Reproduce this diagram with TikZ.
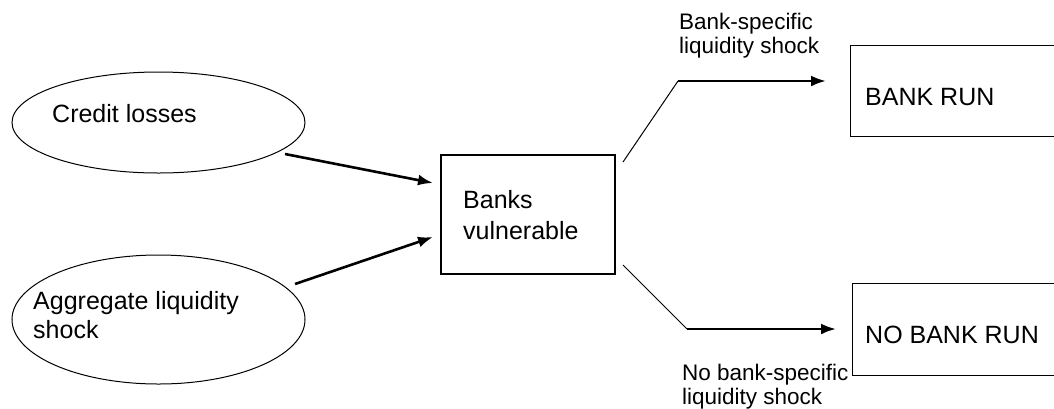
\documentclass[tikz,border=0pt]{standalone}
\usepackage{fontspec}
\setmainfont{Liberation Sans}
\usetikzlibrary{shapes.geometric,arrows.meta}
\begin{document}
\begin{tikzpicture}[x=1pt,y=-1pt,
  every node/.style={font=\fontsize{25}{30}\selectfont, inner sep=0pt},
  oval/.style={draw, ellipse, line width=1pt},
  boxnode/.style={draw, rectangle, line width=1.2pt},
  txt/.style={anchor=base west, align=left},
  lbl/.style={anchor=base west, align=left, font=\fontsize{22.5}{27}\selectfont},
  thick arrow/.style={line width=2.6pt, -{Latex[length=15pt,width=11pt]}},
  thin line/.style={line width=1pt}]
\useasboundingbox (0,0) rectangle (1054,408);
% ellipses
\node[oval, minimum width=293pt, minimum height=101pt] (e1) at (158.5,122.5) {};
\node[oval, minimum width=293pt, minimum height=129pt] (e2) at (158.5,319.5) {};
\node[txt] (t1) at (52,122) {Credit losses};
\node[txt] (t2a) at (33,309) {Aggregate liquidity};
\node[txt] (t2b) at (33,338) {shock};
% central box
\node[boxnode, minimum width=174pt, minimum height=119pt] (bv) at (528,214.5) {};
\node[txt] (bvt1) at (463,208) {Banks};
\node[txt] (bvt2) at (463,239) {vulnerable};
% right boxes
\node[boxnode, minimum width=220pt, minimum height=91pt, anchor=north west] (br) at (850,45) {};
\node[txt] (brt) at (865,105) {BANK RUN};
\node[boxnode, minimum width=220pt, minimum height=92pt, anchor=north west] (nbr) at (852,283) {};
\node[txt] (nbrt) at (865,343) {NO BANK RUN};
% labels
\node[lbl] (l1a) at (679,29) {Bank-specific};
\node[lbl] (l1b) at (679,53) {liquidity shock};
\node[lbl] (l2a) at (682,380) {No bank-specific};
\node[lbl] (l2b) at (682,404) {liquidity shock};
% connector points
\coordinate (a1s) at (285,154);
\coordinate (a1e) at (433,183);
\coordinate (a2s) at (295,284);
\coordinate (a2e) at (433,237);
\coordinate (u0) at (623,162);
\coordinate (u1) at (678,81);
\coordinate (u2) at (826,81);
\coordinate (d0) at (623,265);
\coordinate (d1) at (687,329);
\coordinate (d2) at (836,329);
% connectors
\draw[thick arrow] (a1s) -- (a1e);
\draw[thick arrow] (a2s) -- (a2e);
\draw[thin line] (u0) -- (u1);
\draw[thick arrow] (u1) -- (u2);
\draw[thin line] (d0) -- (d1);
\draw[thick arrow] (d1) -- (d2);
\end{tikzpicture}
\end{document}
